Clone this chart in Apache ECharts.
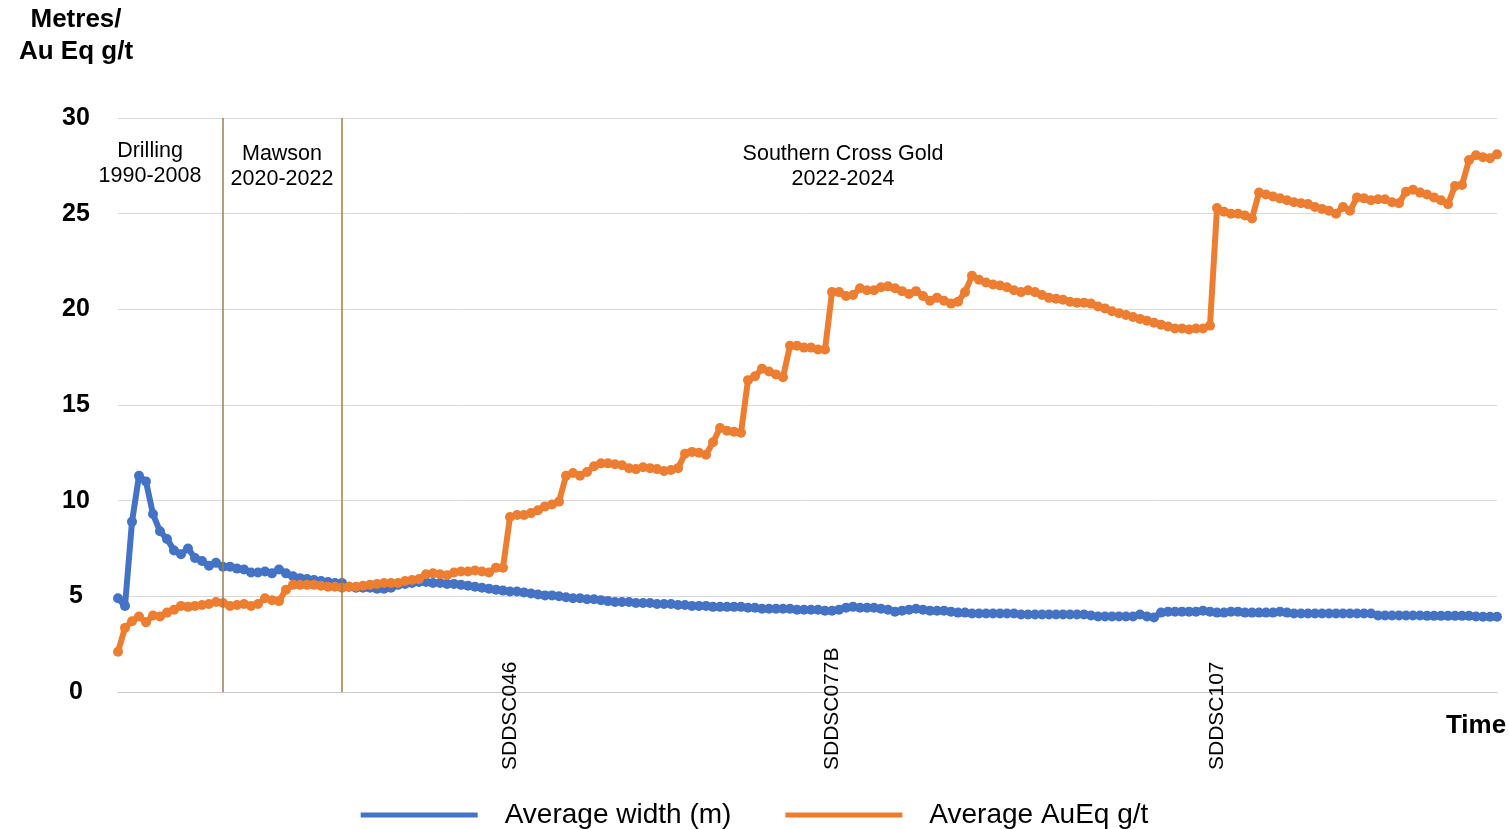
<!DOCTYPE html>
<html>
<head>
<meta charset="utf-8">
<script src="https://cdn.jsdelivr.net/npm/echarts@6/dist/echarts.min.js"></script>
<style>
html,body{margin:0;padding:0;background:#fff;}
#chart{width:1509px;height:829px;}
</style>
</head>
<body>
<div id="chart"></div>
<script>
// Average width (m) over time (drill hole sequence)
const widthValues = [
  4.9, 4.5, 8.9, 11.3, 11.0, 9.3, 8.4, 8.0, 7.4, 7.2,
  7.5, 7.0, 6.85, 6.6, 6.75, 6.55, 6.55, 6.45, 6.4, 6.25,
  6.25, 6.3, 6.2, 6.4, 6.2, 6.05, 5.95, 5.9, 5.85, 5.8,
  5.75, 5.7, 5.7, 5.5, 5.45, 5.45, 5.45, 5.4, 5.4, 5.45,
  5.6, 5.65, 5.7, 5.75, 5.75, 5.7, 5.7, 5.65, 5.65, 5.6,
  5.55, 5.5, 5.45, 5.4, 5.35, 5.3, 5.25, 5.25, 5.2, 5.15,
  5.1, 5.05, 5.05, 5.0, 4.95, 4.9, 4.9, 4.85, 4.85, 4.8,
  4.75, 4.7, 4.7, 4.7, 4.65, 4.65, 4.65, 4.6, 4.6, 4.6,
  4.55, 4.55, 4.5, 4.5, 4.5, 4.45, 4.45, 4.45, 4.45, 4.45,
  4.4, 4.4, 4.35, 4.35, 4.35, 4.35, 4.35, 4.3, 4.3, 4.3,
  4.3, 4.25, 4.25, 4.3, 4.4, 4.45, 4.4, 4.4, 4.4, 4.35,
  4.3, 4.2, 4.25, 4.3, 4.35, 4.3, 4.25, 4.25, 4.25, 4.2,
  4.15, 4.15, 4.1, 4.1, 4.1, 4.1, 4.1, 4.1, 4.1, 4.05,
  4.05, 4.05, 4.05, 4.05, 4.05, 4.05, 4.05, 4.05, 4.05, 4.0,
  3.95, 3.95, 3.95, 3.95, 3.95, 3.95, 4.05, 3.95, 3.9, 4.15,
  4.2, 4.2, 4.2, 4.2, 4.2, 4.25, 4.2, 4.15, 4.15, 4.2,
  4.2, 4.15, 4.15, 4.15, 4.15, 4.15, 4.2, 4.15, 4.1, 4.1,
  4.1, 4.1, 4.1, 4.1, 4.1, 4.1, 4.1, 4.1, 4.1, 4.1,
  4.0, 4.0, 4.0, 4.0, 4.0, 4.0, 4.0, 3.98, 3.98, 3.98,
  3.98, 3.98, 3.98, 3.98, 3.95, 3.93, 3.93, 3.93
];
// Average AuEq g/t over time
const gradeValues = [
  2.1, 3.35, 3.7, 3.95, 3.65, 4.0, 3.95, 4.15, 4.3, 4.5,
  4.45, 4.5, 4.55, 4.6, 4.7, 4.65, 4.5, 4.55, 4.6, 4.5,
  4.6, 4.9, 4.8, 4.75, 5.35, 5.6, 5.6, 5.6, 5.6, 5.55,
  5.5, 5.5, 5.45, 5.5, 5.5, 5.55, 5.6, 5.65, 5.7, 5.7,
  5.7, 5.8, 5.85, 5.9, 6.15, 6.2, 6.15, 6.1, 6.25, 6.3,
  6.3, 6.35, 6.3, 6.25, 6.5, 6.5, 9.15, 9.25, 9.25, 9.35,
  9.5, 9.7, 9.8, 9.95, 11.3, 11.45, 11.3, 11.5, 11.8, 11.95,
  11.95, 11.9, 11.85, 11.7, 11.65, 11.75, 11.7, 11.65, 11.55, 11.6,
  11.7, 12.45, 12.55, 12.5, 12.4, 13.05, 13.8, 13.65, 13.6, 13.55,
  16.3, 16.5, 16.9, 16.75, 16.6, 16.45, 18.1, 18.1, 18.0, 18.0,
  17.9, 17.9, 20.9, 20.9, 20.7, 20.75, 21.1, 21.0, 21.0, 21.15,
  21.2, 21.1, 20.95, 20.8, 20.95, 20.7, 20.45, 20.6, 20.45, 20.3,
  20.4, 20.9, 21.75, 21.55, 21.4, 21.3, 21.25, 21.15, 21.0, 20.9,
  21.0, 20.9, 20.75, 20.6, 20.55, 20.5, 20.4, 20.35, 20.35, 20.3,
  20.15, 20.05, 19.9, 19.8, 19.7, 19.6, 19.5, 19.4, 19.3, 19.2,
  19.1, 19.0, 19.0, 18.95, 19.0, 19.0, 19.15, 25.3, 25.1, 25.0,
  25.0, 24.9, 24.75, 26.1, 26.0, 25.9, 25.8, 25.7, 25.6, 25.55,
  25.5, 25.35, 25.25, 25.15, 25.0, 25.35, 25.15, 25.85, 25.8, 25.7,
  25.75, 25.75, 25.6, 25.55, 26.15, 26.25, 26.1, 26.0, 25.85, 25.7,
  25.5, 26.45, 26.5, 27.8, 28.05, 27.95, 27.9, 28.1
];
// Time steps (categories)
const timeSteps = widthValues.map((_, i) => String(i));
// Drill-hole tick labels and the time steps where they sit
const holeNames = ['SDDSC046', 'SDDSC077B', 'SDDSC107'];
const holeSteps = [56, 102, 157];
// Period dividers (time steps)
const periodBreaks = [15, 32];
const periodNames = ['Drilling\n1990-2008', 'Mawson\n2020-2022', 'Southern Cross Gold\n2022-2024'];
const yTicks = [0, 5, 10, 15, 20, 25, 30];
const seriesNames = ['Average width (m)', 'Average AuEq g/t'];

const FONT = '"Liberation Sans", Arial, sans-serif';
const chart = echarts.init(document.getElementById('chart'));

const option = {
  animation: false,
  backgroundColor: '#ffffff',
  grid: { left: 118, right: 12, top: 118, bottom: 137, containLabel: false },
  xAxis: {
    type: 'category',
    data: timeSteps,
    boundaryGap: false,
    axisLine: { show: true, lineStyle: { color: '#C8C8C8', width: 1 } },
    axisTick: { show: false },
    splitLine: { show: false },
    axisLabel: {
      interval: 0,
      rotate: 90,
      align: 'left',
      verticalAlign: 'middle',
      margin: 78,
      fontSize: 21,
      color: '#000',
      fontFamily: FONT,
      formatter: function (val, idx) {
        const k = holeSteps.indexOf(Number(val));
        return k >= 0 ? holeNames[k] : '';
      }
    }
  },
  yAxis: {
    type: 'value',
    min: yTicks[0],
    max: yTicks[yTicks.length - 1],
    interval: yTicks[1] - yTicks[0],
    axisLine: { show: false },
    axisTick: { show: false },
    splitLine: { show: true, lineStyle: { color: '#D9D9D9', width: 1 } },
    axisLabel: {
      margin: 42,
      align: 'center',
      fontSize: 25,
      fontWeight: 'bold',
      color: '#000',
      fontFamily: FONT
    }
  },
  legend: {
    left: 'center',
    top: 796,
    icon: 'rect',
    itemWidth: 117,
    itemHeight: 5,
    itemGap: 54,
    textStyle: { fontSize: 28, color: '#000', fontFamily: FONT, padding: [0, 0, 0, 22] },
    data: seriesNames
  },
  series: [
    {
      name: seriesNames[0],
      type: 'line',
      data: widthValues,
      showSymbol: true,
      showAllSymbol: true,
      symbol: 'circle',
      symbolSize: 10,
      color: '#4472C4',
      itemStyle: { color: '#4472C4' },
      lineStyle: { color: '#4472C4', width: 6 },
      z: 2,
      markLine: {
        silent: true,
        symbol: 'none',
        label: { show: false },
        lineStyle: { color: '#A47B45', width: 1.5, type: 'solid' },
        data: periodBreaks.map(v => ({ xAxis: v }))
      }
    },
    {
      name: seriesNames[1],
      type: 'line',
      data: gradeValues,
      showSymbol: true,
      showAllSymbol: true,
      symbol: 'circle',
      symbolSize: 10,
      color: '#ED7D31',
      itemStyle: { color: '#ED7D31' },
      lineStyle: { color: '#ED7D31', width: 6 },
      z: 3
    }
  ],
  graphic: [
    { type: 'text', x: 76, y: 36, style: { text: 'Metres/\nAu Eq g/t', font: 'bold 26px ' + FONT, fill: '#000', align: 'center', verticalAlign: 'middle', lineHeight: 32 } },
    { type: 'text', x: 1476, y: 726, style: { text: 'Time', font: 'bold 26px ' + FONT, fill: '#000', align: 'center', verticalAlign: 'middle' } },
    { type: 'text', x: 150, y: 164, style: { text: periodNames[0], font: '21.5px ' + FONT, fill: '#000', align: 'center', verticalAlign: 'middle', lineHeight: 25 } },
    { type: 'text', x: 282, y: 167, style: { text: periodNames[1], font: '21.5px ' + FONT, fill: '#000', align: 'center', verticalAlign: 'middle', lineHeight: 25 } },
    { type: 'text', x: 843, y: 167, style: { text: periodNames[2], font: '21.5px ' + FONT, fill: '#000', align: 'center', verticalAlign: 'middle', lineHeight: 25 } }
  ]
};
chart.setOption(option);
</script>
</body>
</html>
